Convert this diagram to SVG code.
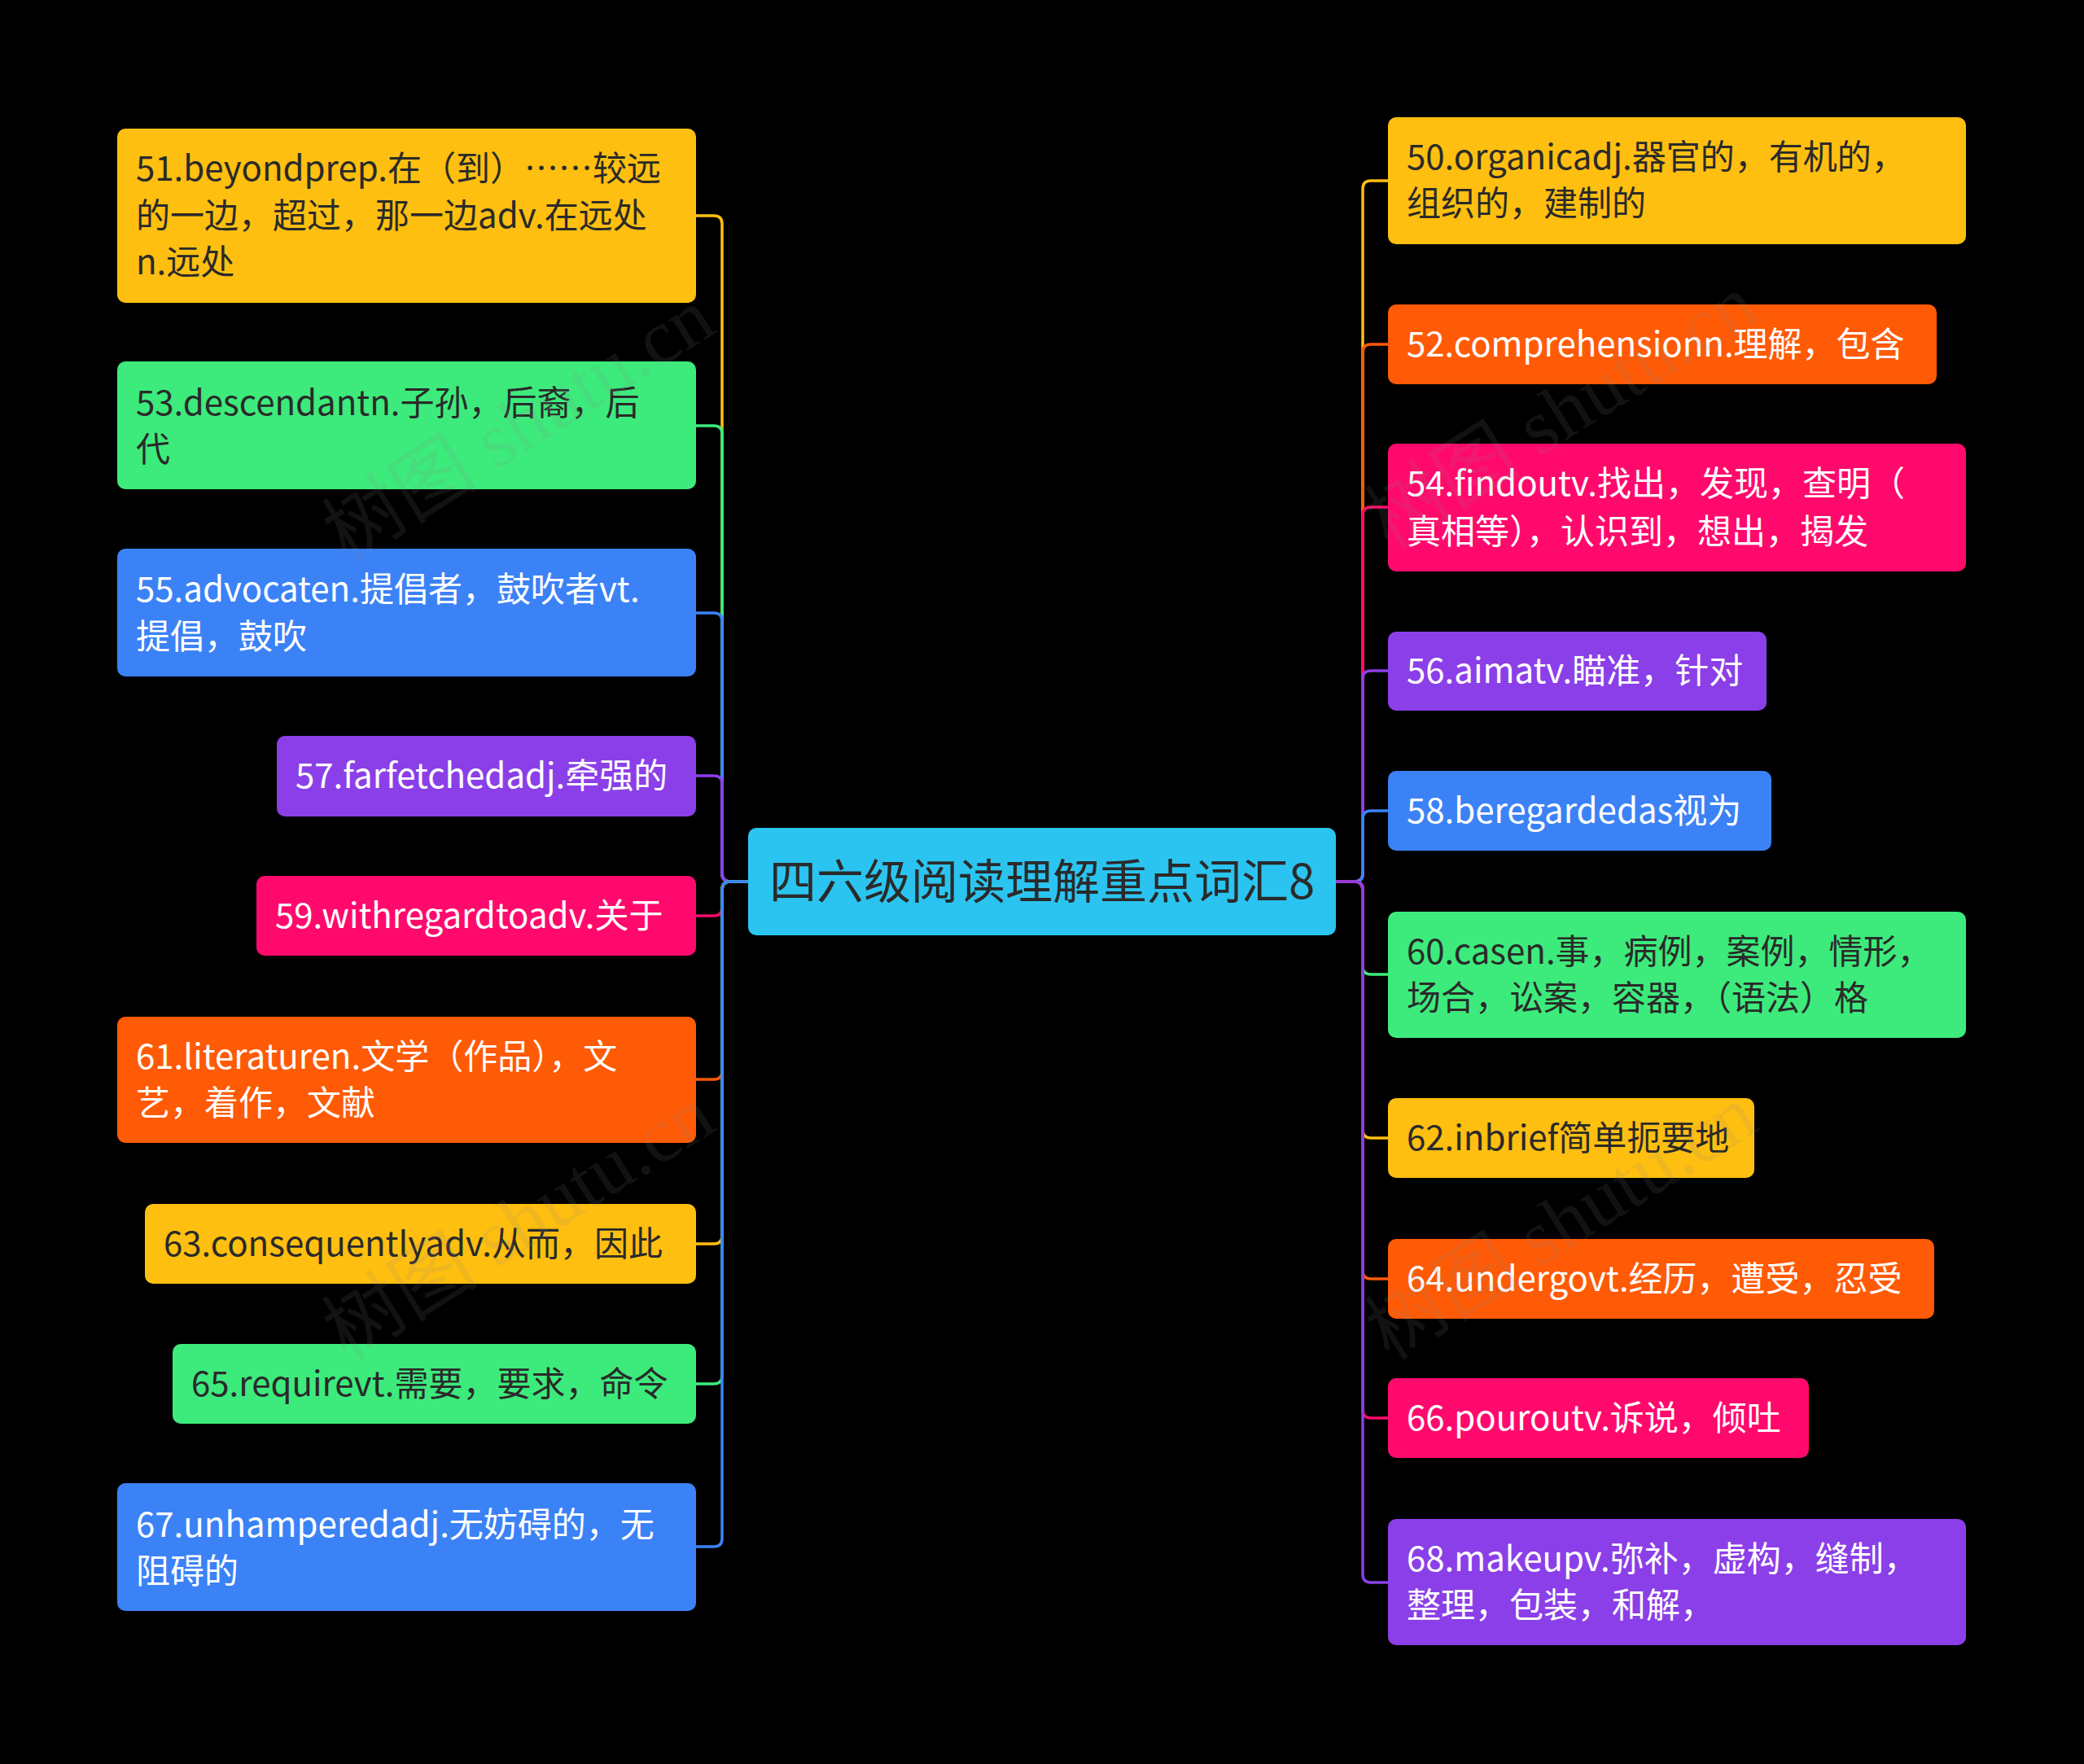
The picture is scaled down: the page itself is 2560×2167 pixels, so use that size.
<svg xmlns="http://www.w3.org/2000/svg" width="2560" height="2167" viewBox="0 0 2560 2167">
<style>
text{font-family:"Noto Sans CJK SC","Noto Sans",sans-serif;font-size:42px;dominant-baseline:central}
.d{fill:#2a2a2a;transform:translateY(-4px)}.w{fill:#ffffff;transform:translateY(-4px)}
.c path{fill:none;stroke-width:3.5}
.wm{font-size:96px;fill:#888;opacity:0.13;font-family:"Liberation Serif","Noto Sans CJK SC",serif}
</style>
<rect width="2560" height="2167" fill="#000"/>
<g class="c">
<path d="M919 1083H897Q887 1083 887 1073V275Q887 265 877 265H855" stroke="#FFBF10"/>
<path d="M919 1083H897Q887 1083 887 1073V533Q887 523 877 523H855" stroke="#3DEB7C"/>
<path d="M919 1083H897Q887 1083 887 1073V763Q887 753 877 753H855" stroke="#3B82F6"/>
<path d="M919 1083H897Q887 1083 887 1073V963Q887 953 877 953H855" stroke="#8B3FE8"/>
<path d="M919 1083H897Q887 1083 887 1093V1115Q887 1125 877 1125H855" stroke="#FF0A6C"/>
<path d="M919 1083H897Q887 1083 887 1093V1316Q887 1326 877 1326H855" stroke="#FF5A06"/>
<path d="M919 1083H897Q887 1083 887 1093V1518Q887 1528 877 1528H855" stroke="#FFBF10"/>
<path d="M919 1083H897Q887 1083 887 1093V1690Q887 1700 877 1700H855" stroke="#3DEB7C"/>
<path d="M919 1083H897Q887 1083 887 1093V1890Q887 1900 877 1900H855" stroke="#3B82F6"/>
<path d="M1641 1083H1664Q1674 1083 1674 1073V232Q1674 222 1684 222H1705" stroke="#FFBF10"/>
<path d="M1641 1083H1664Q1674 1083 1674 1073V433Q1674 423 1684 423H1705" stroke="#FF5A06"/>
<path d="M1641 1083H1664Q1674 1083 1674 1073V633Q1674 623 1684 623H1705" stroke="#FF0A6C"/>
<path d="M1641 1083H1664Q1674 1083 1674 1073V834Q1674 824 1684 824H1705" stroke="#8B3FE8"/>
<path d="M1641 1083H1664Q1674 1083 1674 1073V1006Q1674 996 1684 996H1705" stroke="#3B82F6"/>
<path d="M1641 1083H1664Q1674 1083 1674 1093V1187Q1674 1197 1684 1197H1705" stroke="#3DEB7C"/>
<path d="M1641 1083H1664Q1674 1083 1674 1093V1388Q1674 1398 1684 1398H1705" stroke="#FFBF10"/>
<path d="M1641 1083H1664Q1674 1083 1674 1093V1561Q1674 1571 1684 1571H1705" stroke="#FF5A06"/>
<path d="M1641 1083H1664Q1674 1083 1674 1093V1732Q1674 1742 1684 1742H1705" stroke="#FF0A6C"/>
<path d="M1641 1083H1664Q1674 1083 1674 1093V1934Q1674 1944 1684 1944H1705" stroke="#8B3FE8"/>
</g>
<g id="center"><rect x="919" y="1017" width="722" height="132" rx="10" fill="#2BC4F0"/><text x="1280" y="1083" text-anchor="middle" class="d" style="font-size:58px">四六级阅读理解重点词汇8</text></g>
<g id="n51"><rect x="144" y="158" width="711" height="214" rx="10" fill="#FFBF10"/><text x="167" y="207" class="d">51.beyondprep.在（到）……较远</text><text x="167" y="265" class="d">的一边，超过，那一边adv.在远处</text><text x="167" y="322" class="d">n.远处</text></g>
<g id="n53"><rect x="144" y="444" width="711" height="157" rx="10" fill="#3DEB7C"/><text x="167" y="495" class="d">53.descendantn.子孙，后裔，后</text><text x="167" y="552" class="d">代</text></g>
<g id="n55"><rect x="144" y="674" width="711" height="157" rx="10" fill="#3B82F6"/><text x="167" y="724" class="w">55.advocaten.提倡者，鼓吹者vt.</text><text x="167" y="782" class="w">提倡，鼓吹</text></g>
<g id="n57"><rect x="340" y="904" width="515" height="99" rx="10" fill="#8B3FE8"/><text x="363" y="953" class="w">57.farfetchedadj.牵强的</text></g>
<g id="n59"><rect x="315" y="1076" width="540" height="98" rx="10" fill="#FF0A6C"/><text x="338" y="1125" class="w">59.withregardtoadv.关于</text></g>
<g id="n61"><rect x="144" y="1249" width="711" height="155" rx="10" fill="#FF5A06"/><text x="167" y="1298" class="w">61.literaturen.文学（作品），文</text><text x="167" y="1355" class="w">艺，着作，文献</text></g>
<g id="n63"><rect x="178" y="1479" width="677" height="98" rx="10" fill="#FFBF10"/><text x="201" y="1528" class="d">63.consequentlyadv.从而，因此</text></g>
<g id="n65"><rect x="212" y="1651" width="643" height="98" rx="10" fill="#3DEB7C"/><text x="235" y="1700" class="d">65.requirevt.需要，要求，命令</text></g>
<g id="n67"><rect x="144" y="1822" width="711" height="157" rx="10" fill="#3B82F6"/><text x="167" y="1873" class="w">67.unhamperedadj.无妨碍的，无</text><text x="167" y="1930" class="w">阻碍的</text></g>
<g id="n50"><rect x="1705" y="144" width="710" height="156" rx="10" fill="#FFBF10"/><text x="1728" y="193" class="d">50.organicadj.器官的，有机的，</text><text x="1728" y="250" class="d">组织的，建制的</text></g>
<g id="n52"><rect x="1705" y="374" width="674" height="98" rx="10" fill="#FF5A06"/><text x="1728" y="423" class="w">52.comprehensionn.理解，包含</text></g>
<g id="n54"><rect x="1705" y="545" width="710" height="157" rx="10" fill="#FF0A6C"/><text x="1728" y="594" class="w">54.findoutv.找出，发现，查明（</text><text x="1728" y="653" class="w">真相等），认识到，想出，揭发</text></g>
<g id="n56"><rect x="1705" y="776" width="465" height="97" rx="10" fill="#8B3FE8"/><text x="1728" y="824" class="w">56.aimatv.瞄准，针对</text></g>
<g id="n58"><rect x="1705" y="947" width="471" height="98" rx="10" fill="#3B82F6"/><text x="1728" y="996" class="w">58.beregardedas视为</text></g>
<g id="n60"><rect x="1705" y="1120" width="710" height="155" rx="10" fill="#3DEB7C"/><text x="1728" y="1169" class="d">60.casen.事，病例，案例，情形，</text><text x="1728" y="1226" class="d">场合，讼案，容器，（语法）格</text></g>
<g id="n62"><rect x="1705" y="1349" width="450" height="98" rx="10" fill="#FFBF10"/><text x="1728" y="1398" class="d">62.inbrief简单扼要地</text></g>
<g id="n64"><rect x="1705" y="1522" width="671" height="98" rx="10" fill="#FF5A06"/><text x="1728" y="1571" class="w">64.undergovt.经历，遭受，忍受</text></g>
<g id="n66"><rect x="1705" y="1693" width="517" height="98" rx="10" fill="#FF0A6C"/><text x="1728" y="1742" class="w">66.pouroutv.诉说，倾吐</text></g>
<g id="n68"><rect x="1705" y="1866" width="710" height="155" rx="10" fill="#8B3FE8"/><text x="1728" y="1915" class="w">68.makeupv.弥补，虚构，缝制，</text><text x="1728" y="1972" class="w">整理，包装，和解，</text></g>
<g>
<text class="wm" transform="translate(637 522) rotate(-32)" text-anchor="middle">树图 shutu.cn</text>
<text class="wm" transform="translate(637 1502) rotate(-32)" text-anchor="middle">树图 shutu.cn</text>
<text class="wm" transform="translate(1918 506) rotate(-32)" text-anchor="middle">树图 shutu.cn</text>
<text class="wm" transform="translate(1918 1502) rotate(-32)" text-anchor="middle">树图 shutu.cn</text>
</g>
</svg>
